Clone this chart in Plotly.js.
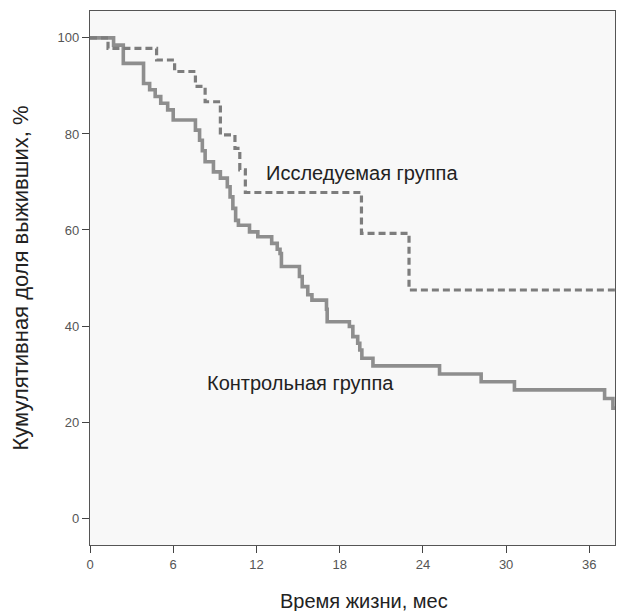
<!DOCTYPE html>
<html>
<head>
<meta charset="utf-8">
<script src="https://cdn.plot.ly/plotly-3.0.1.min.js"></script>
<style>html,body{margin:0;padding:0;background:#fff;}#chart{width:617px;height:611px;}</style>
</head>
<body>
<div id="chart"></div>
<script>
// Control group (solid) – Kaplan–Meier steps: time (months), survival (%)
const controlTime = [0, 1.7, 2.4, 3.86, 4.3, 4.7, 5.1, 5.6, 6.0, 7.6, 7.9, 8.1, 8.3, 8.9, 9.4, 9.9, 10.1, 10.3, 10.5, 10.7, 11.5, 12.1, 13.1, 13.5, 13.7, 13.8, 15.1, 15.3, 15.7, 16.0, 17.05, 17.1, 18.7, 18.95, 19.3, 19.45, 19.6, 20.4, 25.2, 28.2, 30.6, 37.1, 37.7, 37.85];
const controlSurv = [100, 98.5, 94.7, 90.5, 89.2, 87.8, 86.4, 85.0, 82.9, 80.8, 78.7, 76.5, 74.2, 72.1, 70.8, 69.0, 66.9, 64.5, 62.0, 61.0, 59.6, 58.6, 57.2, 56.0, 55.1, 52.4, 50.3, 48.2, 46.5, 45.4, 43.5, 40.9, 39.9, 37.8, 36.4, 35.0, 33.3, 31.7, 30.0, 28.4, 26.7, 24.9, 22.9, 22.9];

// Study group (dashed)
const studyTime = [0, 1.3, 4.8, 6.1, 7.6, 8.3, 9.4, 10.45, 10.8, 11.2, 19.57, 23.0, 37.85];
const studySurv = [100, 97.8, 95.4, 93.0, 89.9, 86.7, 79.8, 77.0, 72.5, 67.8, 59.3, 47.5, 47.5];

const xTicks = [0, 6, 12, 18, 24, 30, 36];
const yTicks = [0, 20, 40, 60, 80, 100];

const labelStudy = "Исследуемая группа";
const labelControl = "Контрольная группа";
const xTitle = "Время жизни, мес";
const yTitle = "Кумулятивная доля выживших, %";

const FONT = "Liberation Sans, Arial, sans-serif";

const traces = [
  {
    x: controlTime, y: controlSurv, mode: "lines", type: "scatter",
    line: {shape: "hv", color: "#8e8e8e", width: 3.6},
    name: labelControl, hoverinfo: "skip"
  },
  {
    x: studyTime, y: studySurv, mode: "lines", type: "scatter",
    line: {shape: "hv", color: "#7d7d7d", width: 3.2, dash: "7px,4px"},
    name: labelStudy, hoverinfo: "skip"
  }
];

const layout = {
  width: 617, height: 611,
  margin: {l: 90, r: 2, t: 11, b: 66},
  paper_bgcolor: "#ffffff",
  plot_bgcolor: "#f8f8f8",
  showlegend: false,
  font: {family: FONT, color: "#333"},
  xaxis: {
    range: [0, 37.85],
    tickvals: xTicks, ticktext: xTicks.map(String),
    ticks: "outside", ticklen: 7, tickcolor: "#444", tickwidth: 1,
    showgrid: false, zeroline: false,
    showline: true, mirror: true, linecolor: "#555", linewidth: 1.2,
    tickfont: {family: FONT, size: 13, color: "#555"}
  },
  yaxis: {
    range: [-5.6, 105.6],
    tickvals: yTicks, ticktext: yTicks.map(String),
    ticks: "outside", ticklen: 7, tickcolor: "#444", tickwidth: 1,
    showgrid: false, zeroline: false,
    showline: true, mirror: true, linecolor: "#555", linewidth: 1.2,
    tickfont: {family: FONT, size: 13, color: "#555"},
    title: {text: yTitle, font: {family: FONT, size: 22, color: "#222"}, standoff: 22}
  },
  annotations: [
    {x: 12.56, y: 71.9, xref: "x", yref: "y", text: labelStudy, showarrow: false,
     xanchor: "left", yanchor: "middle", font: {family: FONT, size: 20, color: "#222"}},
    {x: 8.3, y: 28.1, xref: "x", yref: "y", text: labelControl, showarrow: false,
     xanchor: "left", yanchor: "middle", font: {family: FONT, size: 20, color: "#222"}},
    {x: 0.522, y: -0.105, xref: "paper", yref: "paper", text: xTitle, showarrow: false,
     xanchor: "center", yanchor: "middle", font: {family: FONT, size: 20, color: "#222"}}
  ]
};

Plotly.newPlot("chart", traces, layout, {displayModeBar: false, staticPlot: true});
</script>
</body>
</html>
